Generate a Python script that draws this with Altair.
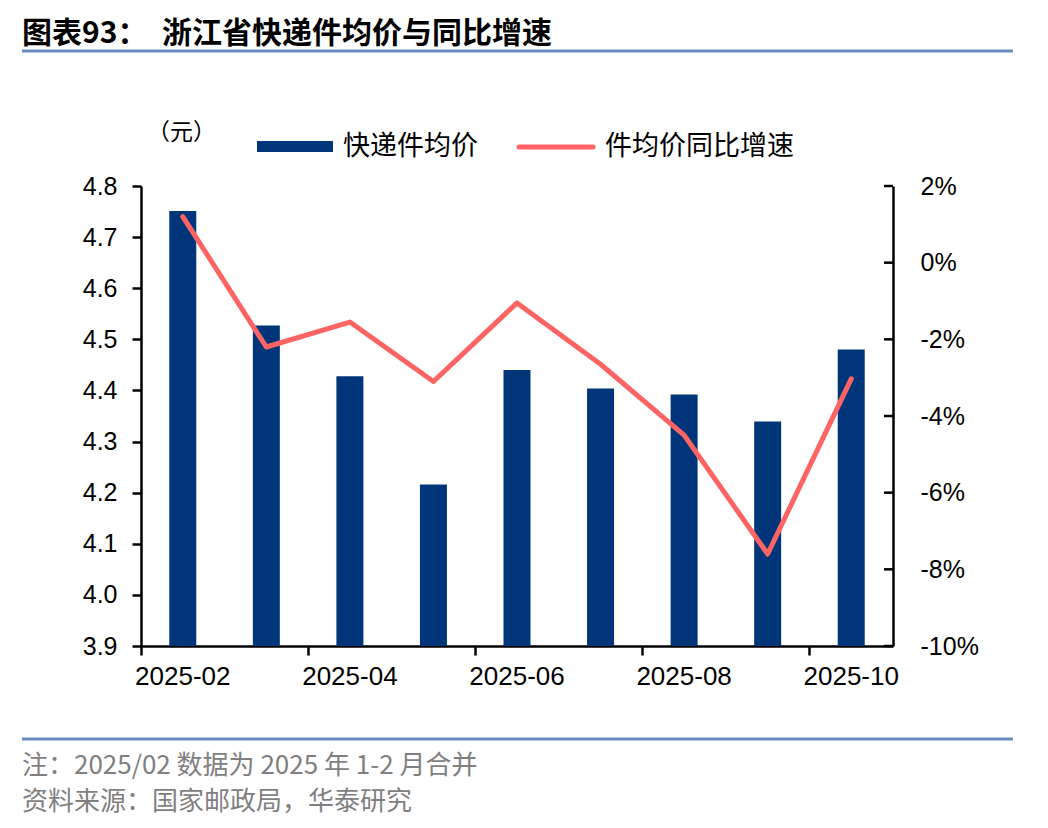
import altair as alt
import pandas as pd

months = ["2025-02", "2025-03", "2025-04", "2025-05", "2025-06",
          "2025-07", "2025-08", "2025-09", "2025-10"]
avg_price = [4.751, 4.527, 4.428, 4.216, 4.440, 4.404, 4.392, 4.339, 4.480]
yoy_pct = [1.2, -2.2, -1.55, -3.1, -1.05, -2.65, -4.5, -7.6, -3.03]
left_ticks = [3.9, 4.0, 4.1, 4.2, 4.3, 4.4, 4.5, 4.6, 4.7, 4.8]
right_ticks = [-10, -8, -6, -4, -2, 0, 2]
x_labels = ["2025-02", "2025-04", "2025-06", "2025-08", "2025-10"]

title_a = "图表93："
title_b = "浙江省快递件均价与同比增速"
unit_text = "（元）"
legend_bar = "快递件均价"
legend_line = "件均价同比增速"
note_1 = "注：2025/02 数据为 2025 年 1-2 月合并"
note_2 = "资料来源：国家邮政局，华泰研究"

BAR = "#003679"
LINE = "#FF6464"
RULE = "#6A8BBF"
GRAY = "#7F7F7F"
NUM_FONT = "Liberation Sans"
CJK = "Noto Sans CJK SC"

W, H = 752, 460

df = pd.DataFrame({"month": months, "price": avg_price, "yoy": yoy_pct})

x_enc = alt.X(
    "month:N", sort=months, title=None,
    scale=alt.Scale(paddingInner=0, paddingOuter=0),
    axis=alt.Axis(values=x_labels, bandPosition=0,
                  labelAngle=0, labelFont=NUM_FONT, labelFontSize=26,
                  labelColor="black", labelPadding=8, tickSize=9,
                  tickWidth=2.5, tickColor="black", domainColor="black",
                  domainWidth=2.5, grid=False),
)

bars = alt.Chart(df).mark_bar(size=27, color=BAR).encode(
    x=x_enc,
    y=alt.Y("price:Q", title=None,
            scale=alt.Scale(domain=[3.9, 4.8], zero=False, nice=False, clamp=True),
            axis=alt.Axis(orient="left", values=left_ticks, format=".1f",
                          labelFont=NUM_FONT, labelFontSize=25, labelColor="black",
                          labelPadding=15, tickSize=9, tickWidth=2.5,
                          tickColor="black", domainColor="black", domainWidth=2.5,
                          grid=False)),
)

y_right = alt.Y("yoy:Q", title=None,
                scale=alt.Scale(domain=[-10, 2], nice=False, zero=False),
                axis=alt.Axis(orient="right", values=right_ticks,
                              labelExpr="datum.value + '%'",
                              labelFont=NUM_FONT, labelFontSize=25,
                              labelColor="black", labelPadding=27,
                              ticks=False, tickSize=0, domainColor="black",
                              domainWidth=2.5, grid=False))

line = alt.Chart(df).mark_line(color=LINE, strokeWidth=5, strokeCap="round",
                               strokeJoin="round").encode(x=x_enc, y=y_right)

rticks = alt.Chart(pd.DataFrame({"yoy": right_ticks})).mark_rule(
    color="black", strokeWidth=2.5).encode(
    y=alt.Y("yoy:Q"), x=alt.value(W - 9), x2=alt.value(W))

right_layer = alt.layer(line, rticks)


def text_layer(txt, x, y, size, color="black", font=CJK, weight="normal",
               align="left"):
    return alt.Chart(pd.DataFrame({"t": [txt]})).mark_text(
        align=align, baseline="middle", font=font, fontSize=size,
        fontWeight=weight, color=color).encode(
        text="t:N", x=alt.value(x), y=alt.value(y))


one = pd.DataFrame({"k": [0]})
header_rule = alt.Chart(one).mark_rule(color=RULE, strokeWidth=3).encode(
    x=alt.value(-119), x2=alt.value(872), y=alt.value(-135))
footer_rule = alt.Chart(one).mark_rule(color=RULE, strokeWidth=3).encode(
    x=alt.value(-119), x2=alt.value(872), y=alt.value(553))
leg_rect = alt.Chart(one).mark_rect(color=BAR).encode(
    x=alt.value(116), x2=alt.value(192), y=alt.value(-45), y2=alt.value(-34))
leg_line = alt.Chart(one).mark_rule(color=LINE, strokeWidth=5,
                                    strokeCap="round").encode(
    x=alt.value(378), x2=alt.value(452), y=alt.value(-39))

decor = [
    text_layer(title_a, -119, -152, 30, weight="bold"),
    text_layer(title_b, 21, -152, 30, weight="bold"),
    header_rule,
    text_layer(unit_text, 6, -53, 23),
    leg_rect,
    text_layer(legend_bar, 202, -39, 27),
    leg_line,
    text_layer(legend_line, 464, -39, 27),
    footer_rule,
    text_layer(note_1, -119, 580, 26, color=GRAY),
    text_layer(note_2, -119, 616, 26, color=GRAY),
]

chart = alt.layer(bars, right_layer, *decor).resolve_scale(
    y="independent"
).properties(
    width=W, height=H,
    autosize=alt.AutoSizeParams(type="none"),
    padding={"left": 133, "top": 178, "right": 140, "bottom": 174},
    background="white",
).configure_view(stroke=None)

chart.save("out.html", embed_options={"renderer": "svg", "actions": False})
